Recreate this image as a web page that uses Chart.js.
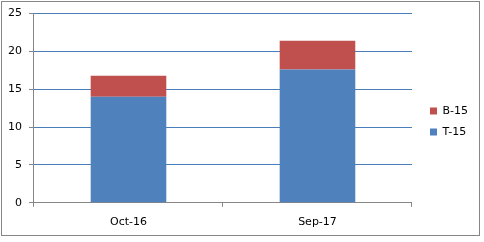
<!DOCTYPE html>
<html>
<head>
<meta charset="utf-8">
<script src="https://cdn.jsdelivr.net/npm/chart.js@4/dist/chart.umd.min.js"></script>
<style>
  body { margin: 0; background: #fff; }
  #caixa { position: absolute; left: 1px; top: 1px; width: 477px; height: 233px; border: 1px solid #868686; }
  #grafico { position: absolute; left: -2px; top: -2px; }
</style>
</head>
<body>
<div id="caixa"><canvas id="grafico" width="484" height="242"></canvas></div>
<script>
// valores
const categorias = ['Oct-16', 'Sep-17'];
const serieT15 = [14.0, 17.6];
const serieB15 = [2.8, 3.8];
const ticksY = [0, 5, 10, 15, 20, 25];

const fonte = { family: 'DejaVu Sans', size: 11 };

// empurra a legenda um pouco para a direita, como no original
const moveLegenda = {
    id: 'moveLegenda',
    afterLayout(chart) {
        chart.legend.left += 8;
        chart.legend.right += 8;
        chart.legend.top -= 2;
        chart.legend.bottom -= 2;
    }
};

const data = {
    labels: categorias,
    datasets: [{
        label: 'T-15',
        data: serieT15,
        backgroundColor: '#4f81bd',
        barPercentage: 0.4,
        categoryPercentage: 1.0
    }, {
        label: 'B-15',
        data: serieB15,
        backgroundColor: '#c0504d',
        barPercentage: 0.4,
        categoryPercentage: 1.0
    }]
};

const config = {
    type: 'bar',
    data: data,
    plugins: [moveLegenda],
    options: {
        responsive: false,
        animation: false,
        layout: { padding: { top: 9, left: 1, bottom: 4, right: 14 } },
        plugins: {
            tooltip: { enabled: false },
            legend: {
                position: 'right',
                reverse: true,
                labels: {
                    boxWidth: 7,
                    boxHeight: 7,
                    padding: 10,
                    color: '#000',
                    font: fonte
                }
            }
        },
        scales: {
            x: {
                stacked: true,
                grid: {
                    offset: true,
                    drawOnChartArea: false,
                    tickLength: 4,
                    tickColor: '#868686'
                },
                border: { color: '#868686' },
                ticks: { color: '#000', font: fonte, padding: 9 }
            },
            y: {
                stacked: true,
                min: 0,
                max: 25,
                afterBuildTicks: function (axis) {
                    axis.ticks = ticksY.map(v => ({ value: v }));
                },
                grid: {
                    color: '#4a7ebb',
                    tickLength: 5,
                    tickColor: '#868686'
                },
                border: { color: '#868686' },
                ticks: { color: '#000', font: fonte, padding: 7 }
            }
        }
    }
};

let ctx = document.getElementById('grafico');
grafico = new Chart(ctx, config);
</script>
</body>
</html>
